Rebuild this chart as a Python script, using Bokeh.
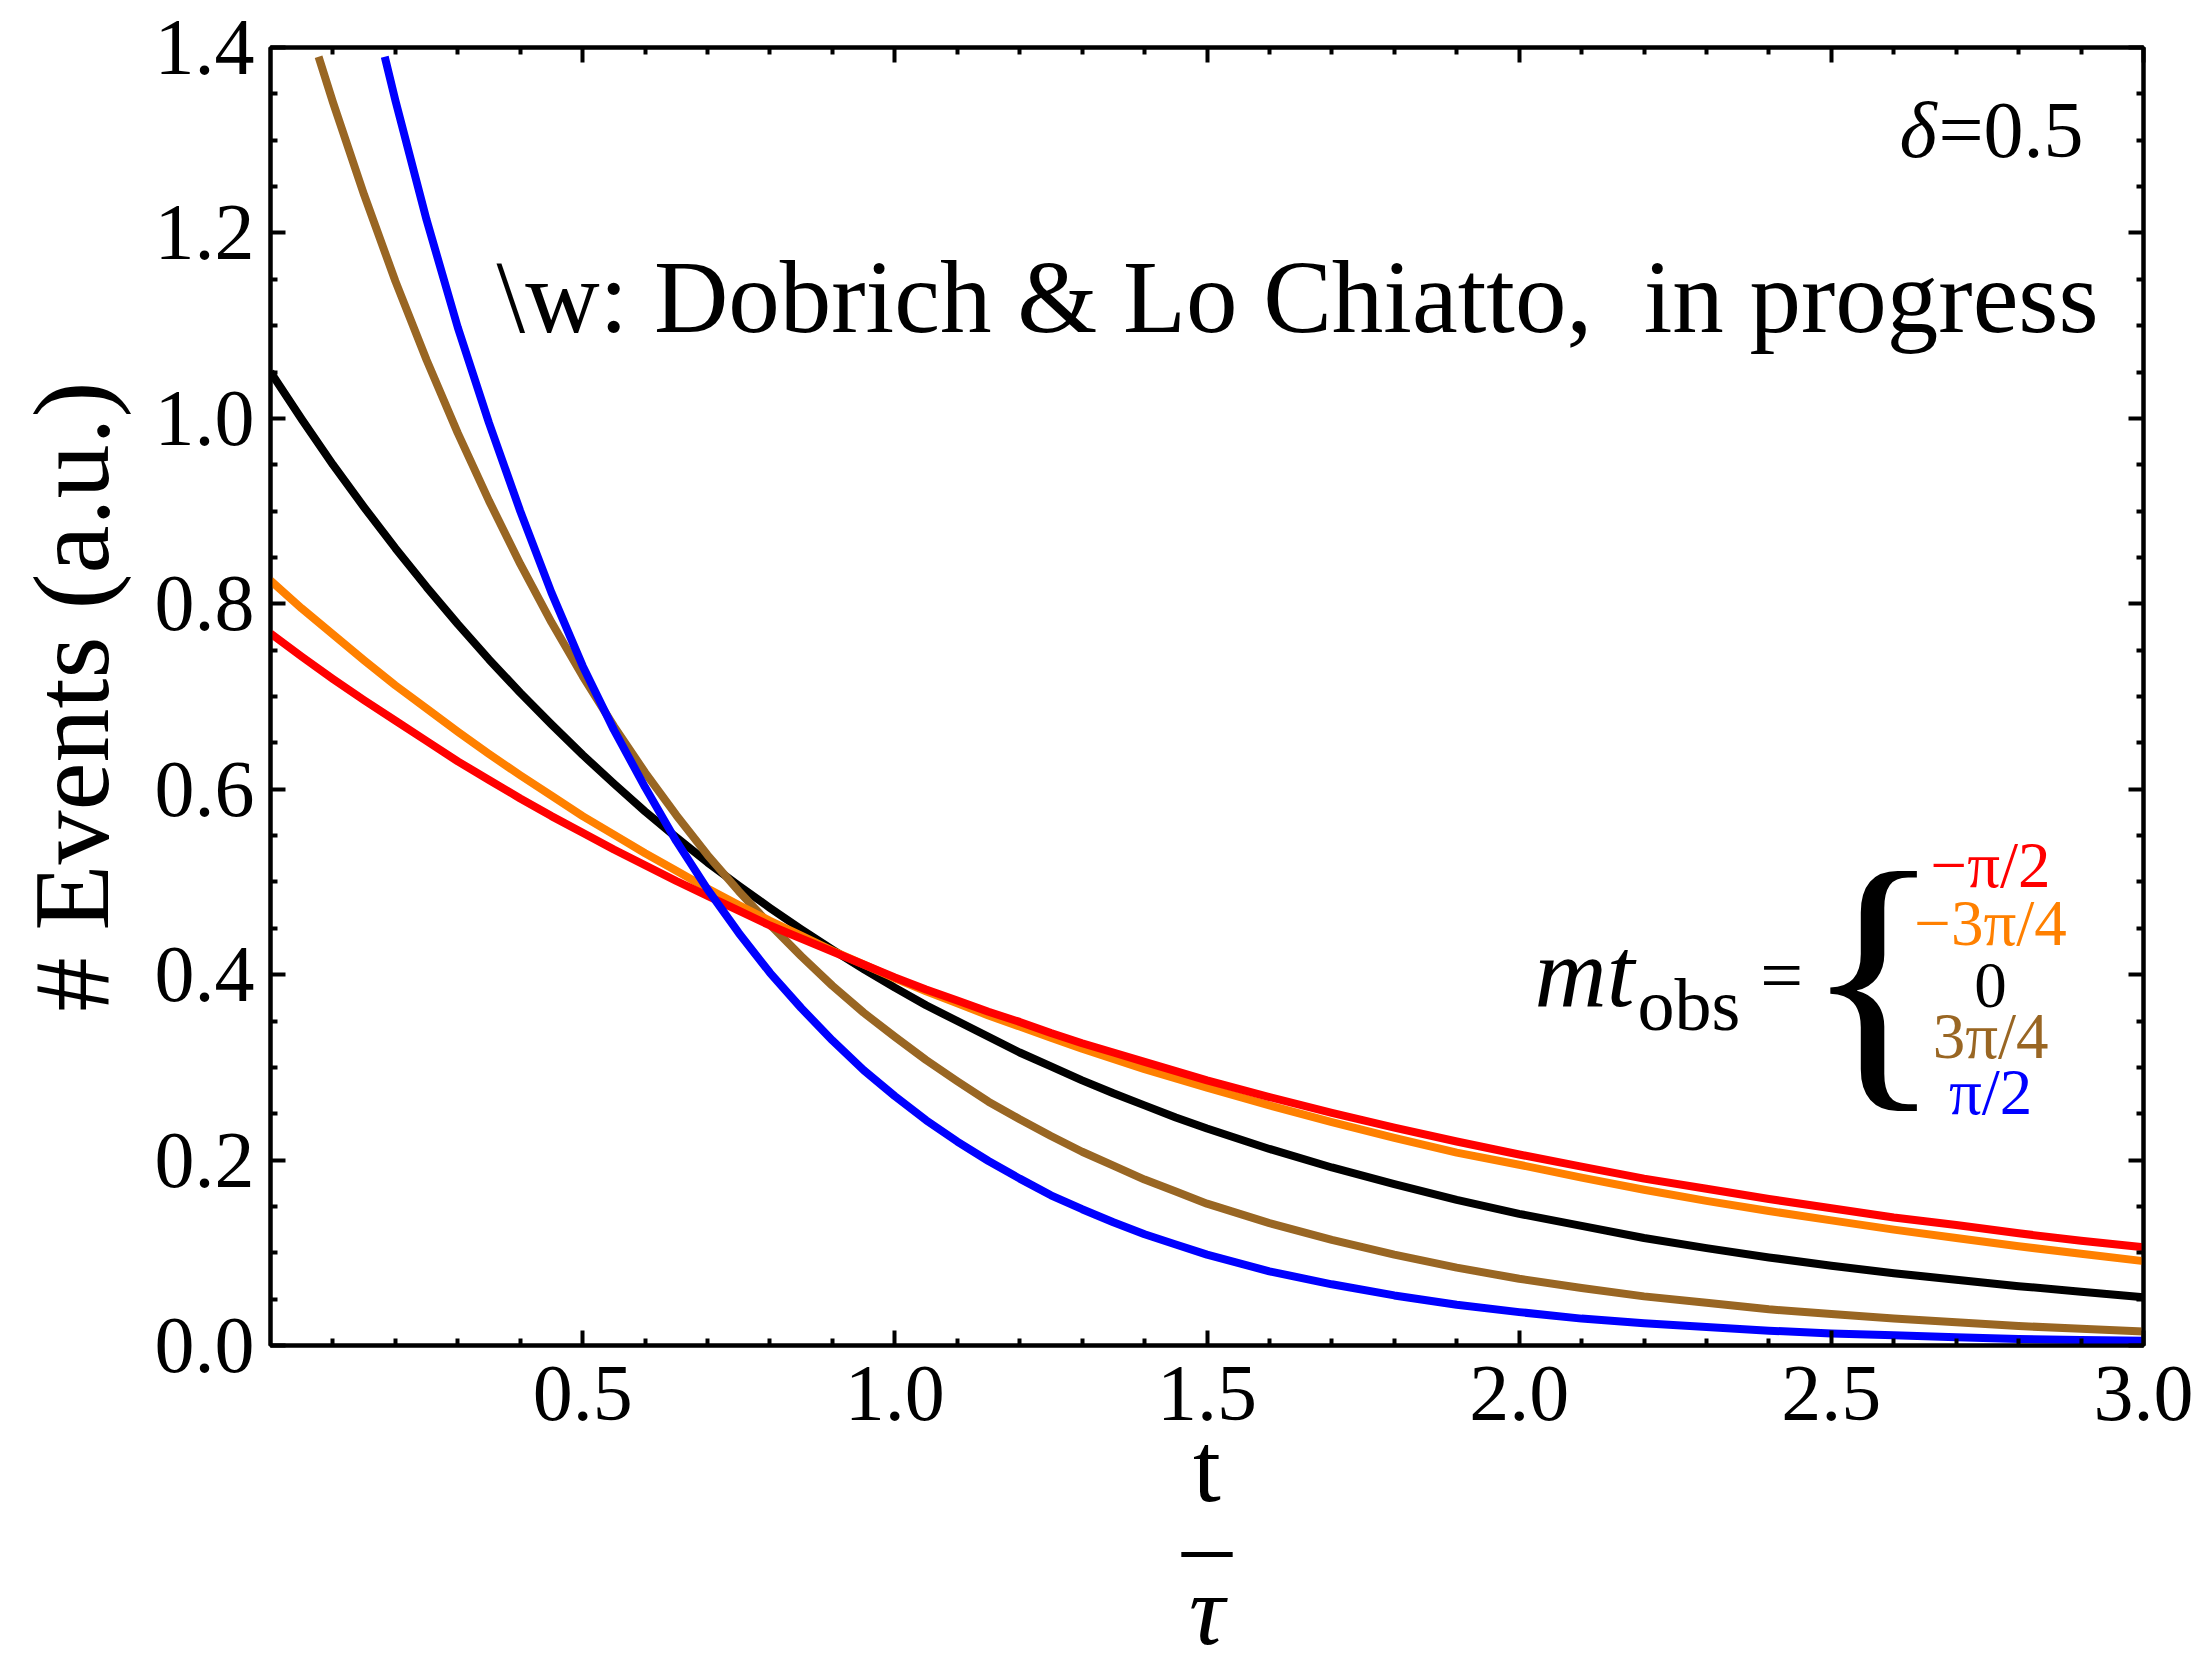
from bokeh.plotting import figure
from bokeh.models import Range1d, LinearAxis, FixedTicker, Label, CustomJSTickFormatter, Title
from bokeh.embed import file_html
from bokeh.resources import INLINE

# ---------------- data ----------------
t_common = [0.0, 0.05, 0.1, 0.15, 0.2, 0.25, 0.3, 0.35, 0.4, 0.45, 0.5, 0.55, 0.6, 0.65, 0.7,
            0.75, 0.8, 0.85, 0.9, 0.95, 1.0, 1.05, 1.1, 1.15, 1.2, 1.25, 1.3, 1.35, 1.4, 1.45,
            1.5, 1.6, 1.7, 1.8, 1.9, 2.0, 2.1, 2.2, 2.3, 2.4, 2.5, 2.6, 2.7, 2.8, 2.9, 3.0]

events_red = [0.768, 0.743, 0.719, 0.696, 0.674, 0.652, 0.630, 0.610, 0.590, 0.571, 0.553,
              0.535, 0.518, 0.501, 0.485, 0.469, 0.453, 0.439, 0.425, 0.411, 0.397, 0.384,
              0.372, 0.360, 0.349, 0.337, 0.326, 0.316, 0.306, 0.296, 0.286, 0.268, 0.251,
              0.235, 0.220, 0.206, 0.193, 0.180, 0.169, 0.158, 0.148, 0.138, 0.130, 0.121,
              0.113, 0.106]

events_orange = [0.825, 0.795, 0.767, 0.739, 0.712, 0.687, 0.662, 0.638, 0.615, 0.593, 0.571,
                 0.551, 0.531, 0.512, 0.493, 0.475, 0.458, 0.442, 0.426, 0.411, 0.396, 0.382,
                 0.369, 0.356, 0.344, 0.332, 0.320, 0.309, 0.298, 0.288, 0.278, 0.259, 0.241,
                 0.224, 0.208, 0.195, 0.181, 0.168, 0.156, 0.145, 0.135, 0.125, 0.116, 0.107,
                 0.099, 0.091]

events_black = [1.050, 0.999, 0.950, 0.904, 0.860, 0.818, 0.778, 0.740, 0.704, 0.670, 0.637,
                0.606, 0.576, 0.548, 0.521, 0.496, 0.472, 0.449, 0.427, 0.406, 0.386, 0.367,
                0.350, 0.333, 0.316, 0.301, 0.286, 0.272, 0.259, 0.246, 0.234, 0.212, 0.192,
                0.174, 0.157, 0.142, 0.129, 0.116, 0.105, 0.095, 0.086, 0.078, 0.071, 0.064,
                0.058, 0.052]

t_brown = [0.077, 0.1, 0.15, 0.2, 0.25, 0.3, 0.35, 0.4, 0.45, 0.5, 0.55, 0.6, 0.65, 0.7, 0.75,
           0.8, 0.85, 0.9, 0.95, 1.0, 1.05, 1.1, 1.15, 1.2, 1.25, 1.3, 1.35, 1.4, 1.45, 1.5,
           1.6, 1.7, 1.8, 1.9, 2.0, 2.1, 2.2, 2.3, 2.4, 2.5, 2.6, 2.7, 2.8, 2.9, 3.0]
events_brown = [1.390, 1.341, 1.241, 1.148, 1.063, 0.984, 0.911, 0.843, 0.780, 0.722, 0.668,
                0.618, 0.572, 0.529, 0.490, 0.454, 0.420, 0.388, 0.359, 0.333, 0.308, 0.285,
                0.263, 0.244, 0.226, 0.209, 0.194, 0.179, 0.166, 0.153, 0.132, 0.114, 0.098,
                0.084, 0.072, 0.062, 0.053, 0.046, 0.039, 0.034, 0.029, 0.025, 0.021, 0.018,
                0.015]

t_blue = [0.183, 0.2, 0.25, 0.3, 0.35, 0.4, 0.45, 0.5, 0.55, 0.6, 0.65, 0.7, 0.75, 0.8, 0.85,
          0.9, 0.95, 1.0, 1.05, 1.1, 1.15, 1.2, 1.25, 1.3, 1.35, 1.4, 1.45, 1.5,
          1.6, 1.7, 1.8, 1.9, 2.0, 2.1, 2.2, 2.3, 2.4, 2.5, 2.6, 2.7, 2.8, 2.9, 3.0]
events_blue = [1.390, 1.343, 1.214, 1.098, 0.995, 0.900, 0.812, 0.733, 0.664, 0.602, 0.544,
               0.492, 0.445, 0.402, 0.364, 0.329, 0.297, 0.269, 0.243, 0.220, 0.199, 0.180,
               0.162, 0.147, 0.133, 0.120, 0.109, 0.098, 0.080, 0.066, 0.054, 0.044, 0.036,
               0.029, 0.024, 0.020, 0.016, 0.013, 0.011, 0.009, 0.007, 0.006, 0.005]

legend_labels = ["\u2212\u03c0/2", "\u22123\u03c0/4", "0", "3\u03c0/4", "\u03c0/2"]

x_ticks = [0.5, 1.0, 1.5, 2.0, 2.5, 3.0]
x_tick_labels = ["0.5", "1.0", "1.5", "2.0", "2.5", "3.0"]
x_minor = [0.1, 0.2, 0.3, 0.4, 0.6, 0.7, 0.8, 0.9, 1.1, 1.2, 1.3, 1.4, 1.6, 1.7, 1.8, 1.9,
           2.1, 2.2, 2.3, 2.4, 2.6, 2.7, 2.8, 2.9]
y_ticks = [0.0, 0.2, 0.4, 0.6, 0.8, 1.0, 1.2, 1.4]
y_tick_labels = ["0.0", "0.2", "0.4", "0.6", "0.8", "1.0", "1.2", "1.4"]
y_minor = [0.05, 0.1, 0.15, 0.25, 0.3, 0.35, 0.45, 0.5, 0.55, 0.65, 0.7, 0.75, 0.85, 0.9,
           0.95, 1.05, 1.1, 1.15, 1.25, 1.3, 1.35]

# ---------------- styling ----------------
FONT = "Liberation Serif"
RED, ORANGE, BLACK, BROWN, BLUE = "#ff0000", "#ff8000", "#000000", "#996623", "#0000ff"
LW = 8
FRAME_W = 4

p = figure(width=2195, height=1659, x_range=Range1d(0, 3), y_range=Range1d(0, 1.4),
           output_backend="svg", toolbar_location=None,
           min_border_left=270, min_border_right=52, min_border_top=47, min_border_bottom=314)
p.background_fill_color = "white"
p.border_fill_color = "white"
p.xgrid.visible = False
p.ygrid.visible = False
p.outline_line_color = "black"
p.outline_line_width = FRAME_W


def style_axis(ax, ticks, minor, labels=None):
    ax.ticker = FixedTicker(ticks=ticks, minor_ticks=minor)
    ax.axis_line_width = FRAME_W
    ax.axis_line_color = "black"
    ax.major_tick_in = 15
    ax.major_tick_out = 0
    ax.minor_tick_in = 7
    ax.minor_tick_out = 0
    ax.major_tick_line_width = 4
    ax.minor_tick_line_width = 4
    ax.major_tick_line_color = "black"
    ax.minor_tick_line_color = "black"
    if labels is None:
        ax.formatter = CustomJSTickFormatter(code="return ''")
        ax.major_label_text_font_size = "1px"
        ax.major_label_standoff = 0
    else:
        ax.major_label_overrides = {tk: lb for tk, lb in zip(ticks, labels)}
        ax.major_label_text_font = FONT
        ax.major_label_text_font_size = "80px"
        ax.major_label_text_color = "black"


xb = p.xaxis[0]
style_axis(xb, x_ticks, x_minor, x_tick_labels)
xb.major_label_standoff = 21
xb.axis_label = "t"
xb.axis_label_text_font = FONT
xb.axis_label_text_font_style = "normal"
xb.axis_label_text_font_size = "100px"
xb.axis_label_text_color = "black"
xb.axis_label_standoff = -11

yl = p.yaxis[0]
style_axis(yl, y_ticks, y_minor, y_tick_labels)
yl.major_label_standoff = 16
yl.axis_label = "# Events (a.u.)"
yl.axis_label_text_font = FONT
yl.axis_label_text_font_style = "normal"
yl.axis_label_text_font_size = "108px"
yl.axis_label_text_color = "black"
yl.axis_label_standoff = 21

xt = LinearAxis()
style_axis(xt, x_ticks, x_minor)
p.add_layout(xt, "above")
yr = LinearAxis()
style_axis(yr, y_ticks, y_minor)
p.add_layout(yr, "right")

# fraction bar and denominator of the x label
p.add_layout(Title(text="\u2013", align="center", text_font=FONT, text_font_size="100px",
                   text_font_style="normal", text_color="black", standoff=-78), "below")
p.add_layout(Title(text="\u03c4", align="center", text_font=FONT, text_font_size="100px",
                   text_font_style="italic", text_color="black", standoff=-15), "below")

# ---------------- curves ----------------
p.line(t_common, events_black, line_color=BLACK, line_width=LW, line_join="round")
p.line(t_brown, events_brown, line_color=BROWN, line_width=LW, line_join="round")
p.line(t_common, events_orange, line_color=ORANGE, line_width=LW, line_join="round")
p.line(t_common, events_red, line_color=RED, line_width=LW, line_join="round")
p.line(t_blue, events_blue, line_color=BLUE, line_width=LW, line_join="round")


# ---------------- texts ----------------
def lab(x, y, text, size, color="black", align="left", style="normal"):
    p.add_layout(Label(x=x, y=y, text=text, text_font=FONT, text_font_size=size,
                       text_color=color, text_align=align, text_baseline="alphabetic",
                       text_font_style=style))


lab(0.362, 1.131, "\\w: Dobrich & Lo Chiatto,\u00a0\u00a0in progress", "103px")
lab(2.6686, 1.3107, "\u03b4", "80px", align="right", style="italic")
lab(2.904, 1.3107, "=0.5", "80px", align="right")

lab(2.0247, 0.4024, "mt", "100px", style="italic")
lab(2.1897, 0.3677, "obs", "74px")
lab(2.4203, 0.3996, "=", "76px", align="center")
lab(2.5677, 0.400, "{", "290px", align="center")
legend_colors = [RED, ORANGE, BLACK, BROWN, BLUE]
legend_y = [0.5181, 0.4557, 0.3878, 0.3339, 0.2735]
for txt, col, yy in zip(legend_labels, legend_colors, legend_y):
    lab(2.7551, yy, txt, "65px", color=col, align="center")

open("out.html", "w").write(file_html(p, INLINE))
